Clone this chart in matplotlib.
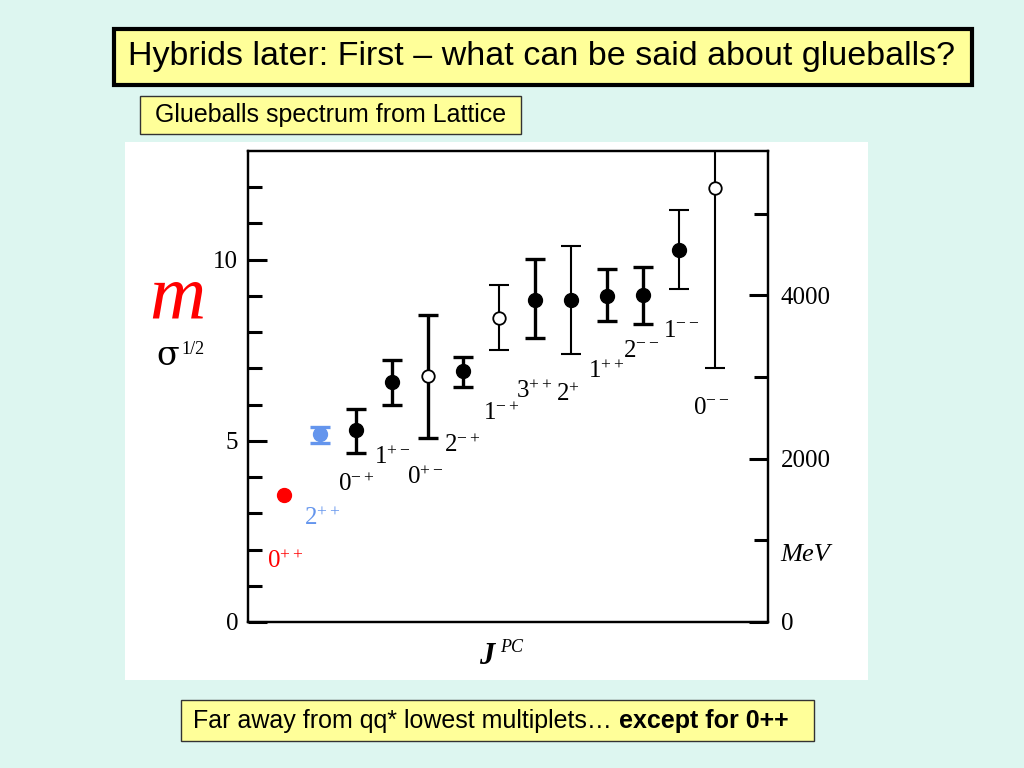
import matplotlib
matplotlib.use("Agg")
import matplotlib.pyplot as plt
from matplotlib.patches import Rectangle
from matplotlib.ticker import FixedLocator

plt.rcParams['mathtext.fontset'] = 'custom'
plt.rcParams['mathtext.rm'] = 'Liberation Serif'
plt.rcParams['mathtext.it'] = 'Liberation Serif:italic'
plt.rcParams['mathtext.bf'] = 'Liberation Serif:bold'

# glueball states (lattice), mass in units of sqrt(sigma)
states = ["0++", "2++", "0-+", "1+-", "0+-", "2-+", "1-+", "3++", "2+-", "1++", "2--", "1--", "0--"]
labels = [r"$0^{++}$", r"$2^{++}$", r"$0^{-+}$", r"$1^{+-}$", r"$0^{+-}$", r"$2^{-+}$", r"$1^{-+}$",
          r"$3^{++}$", r"$2^{+}$", r"$1^{++}$", r"$2^{--}$", r"$1^{--}$", r"$0^{--}$"]
mass = [3.51, 5.18, 5.29, 6.63, 6.79, 6.93, 8.39, 8.89, 8.88, 8.99, 9.02, 10.28, 11.99]
err_up = [0.0, 0.21, 0.60, 0.59, 1.67, 0.38, 0.92, 1.13, 1.51, 0.74, 0.77, 1.10, 1.30]
err_dn = [0.0, 0.25, 0.63, 0.64, 1.70, 0.44, 0.89, 1.06, 1.47, 0.67, 0.79, 1.08, 4.97]
is_open = [False, False, False, False, True, False, True, False, False, False, False, False, True]
colors = ["red", "cornflowerblue"] + ["black"] * 11
thick = [False, True, True, True, True, True, False, True, False, True, True, False, False]
# where the J^PC labels sit (data coords)
label_xy = [(0.03, 1.67), (1.06, 2.88), (2.01, 3.82), (3.01, 4.56), (3.93, 4.01), (4.96, 4.89),
            (6.04, 5.77), (6.96, 6.37), (7.91, 6.29), (8.97, 6.92), (9.94, 7.50), (11.06, 8.05),
            (11.89, 5.94)]

left_major = [0, 5, 10]
left_minor = [1, 2, 3, 4, 6, 7, 8, 9, 11, 12]
right_major = [0, 2000, 4000]
right_minor = [1000, 3000, 5000]
mev_per_unit = 443.6

W, H = 1024, 768
fig = plt.figure(figsize=(W / 100, H / 100), dpi=100)
fig.patch.set_facecolor("#ddf6f0")

# overlay in pixel coords for boxes / panel
bg = fig.add_axes([0, 0, 1, 1], zorder=0)
bg.set_xlim(0, W)
bg.set_ylim(H, 0)
bg.axis("off")
bg.add_patch(Rectangle((125, 142), 743, 538, facecolor="white", edgecolor="none"))
bg.add_patch(Rectangle((114, 29), 858, 56, facecolor="#ffff99", edgecolor="black", linewidth=3))
bg.text(542, 57, "Hybrids later: First \u2013 what can be said about glueballs?", fontsize=24.5,
        family="Liberation Sans", ha="center", va="center")
bg.add_patch(Rectangle((140, 96), 381, 38, facecolor="#ffff99", edgecolor="#333333", linewidth=1))
bg.text(331, 115, "Glueballs spectrum from Lattice", fontsize=18, family="Liberation Sans",
        ha="center", va="center")
bg.add_patch(Rectangle((181, 700), 633, 41, facecolor="#ffff99", edgecolor="#333333", linewidth=1))
t1 = bg.text(193, 721, "Far away from qq* lowest multiplets\u2026 ", fontsize=18,
             family="Liberation Sans", ha="left", va="center")
bg.annotate("except for 0++", xy=(1, 0.5), xycoords=t1, fontsize=18, fontweight="bold",
            family="Liberation Sans", ha="left", va="center")

# axis titles
bg.text(177, 300, "m", fontsize=56, color="red", family="Liberation Serif", style="italic",
        ha="center", va="center")
bg.text(168, 356, "\u03c3", fontsize=24, family="DejaVu Serif", ha="center", va="center")
bg.text(181, 349, "1/2", fontsize=13, family="Liberation Serif", ha="left", va="center")
bg.text(487, 656, "J", fontsize=22, family="Liberation Serif", style="italic", weight="bold",
        ha="center", va="center")
bg.text(500, 648, "PC", fontsize=13, family="Liberation Serif", style="italic",
        ha="left", va="center")
bg.text(780, 555, "MeV", fontsize=19, family="Liberation Serif", style="italic", ha="left", va="center")

ax = fig.add_axes([248 / W, (H - 622) / H, 520 / W, 471 / H], zorder=1)
ax.set_facecolor("none")
ax.set_xlim(-1.0, 13.48)
ax.set_ylim(0, 13)
ax.set_xticks([])
ax.yaxis.set_major_locator(FixedLocator(left_major))
ax.yaxis.set_minor_locator(FixedLocator(left_minor))
ax.tick_params(axis="y", which="major", direction="in", length=14, width=2.2, pad=7,
               labelsize=18, labelfontfamily="Liberation Serif")
ax.tick_params(axis="y", which="minor", direction="in", length=10, width=2.2)
for s in ax.spines.values():
    s.set_linewidth(1.6)

for i in range(len(states)):
    lw = 2.4 if thick[i] else 1.5
    if err_up[i] > 0:
        ax.errorbar(i, mass[i], yerr=[[err_dn[i]], [err_up[i]]], fmt="none", ecolor=colors[i],
                    elinewidth=lw, capsize=7, capthick=lw, clip_on=True)
    if is_open[i]:
        ax.plot(i, mass[i], "o", markersize=9, markerfacecolor="white", markeredgecolor="black",
                markeredgewidth=1.3)
    else:
        ax.plot(i, mass[i], "o", markersize=10, color=colors[i])
    lx, ly = label_xy[i]
    ax.text(lx, ly, labels[i], fontsize=18, color=colors[i], ha="center", va="center")

ax2 = ax.twinx()
ax2.set_ylim(0, 13 * mev_per_unit)
ax2.yaxis.set_major_locator(FixedLocator(right_major))
ax2.yaxis.set_minor_locator(FixedLocator(right_minor))
ax2.tick_params(axis="y", which="major", direction="in", length=14, width=2.2, pad=9,
                labelsize=18, labelfontfamily="Liberation Serif")
ax2.tick_params(axis="y", which="minor", direction="in", length=10, width=2.2)
for s in ax2.spines.values():
    s.set_linewidth(1.6)

plt.savefig("out.png", dpi=100, facecolor=fig.get_facecolor())
